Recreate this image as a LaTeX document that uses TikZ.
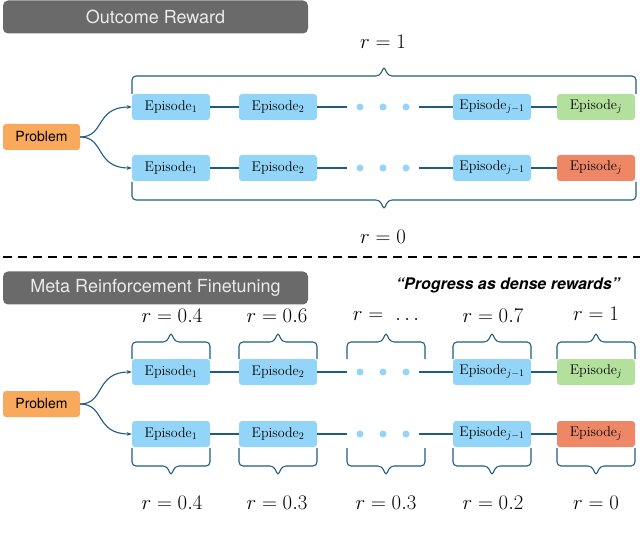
\documentclass[tikz,border=0pt]{standalone}
\usepackage{fontspec}
\newfontfamily\hv{TeX Gyre Heros}
\usetikzlibrary{arrows.meta}
\definecolor{epb}{HTML}{93D5F8}
\definecolor{epg}{HTML}{B4E09E}
\definecolor{epr}{HTML}{EE8765}
\definecolor{prob}{HTML}{F8A95C}
\definecolor{ln}{HTML}{1E5C80}
\definecolor{ban}{HTML}{6A6A6A}
\begin{document}
\begin{tikzpicture}[x=1pt,y=-1pt,
 ep/.style={rounded corners=3pt,minimum width=78pt,minimum height=26pt,inner sep=0pt,font=\fontsize{14}{15}\selectfont},
 prb/.style={fill=prob,rounded corners=3pt,minimum width=77pt,minimum height=26pt,font=\hv\fontsize{14}{15}\selectfont},
 banner/.style={fill=ban,rounded corners=5pt,minimum width=305pt,minimum height=33pt,text=white!92!black,font=\hv\fontsize{18}{19}\selectfont},
 conn/.style={draw=ln,line width=2pt},
 arr/.style={draw=ln,line width=1.1pt,-{Stealth[length=5pt]}},
 brc/.style={draw=ln,line width=1.1pt,rounded corners=4pt},
 dot/.style={circle,fill=epb,inner sep=0pt,minimum size=7pt},
 lab/.style={font=\fontsize{21}{22}\selectfont}]
\useasboundingbox (0,0) rectangle (640,545);
\newcommand\brup[4]{\draw[brc] (#1,#3) -- (#1,#4) -- ({(#1+#2)/2-4},#4) -- ({(#1+#2)/2},#4-10) -- ({(#1+#2)/2+4},#4) -- (#2,#4) -- (#2,#3);}
\newcommand\brdn[4]{\draw[brc] (#1,#3) -- (#1,#4) -- ({(#1+#2)/2-4},#4) -- ({(#1+#2)/2},#4+10) -- ({(#1+#2)/2+4},#4) -- (#2,#4) -- (#2,#3);}
\newcommand\row[3]{% y, prefix, last color
 \node[ep,fill=epb] (#2a) at (171,#1) {Episode$_1$};
 \node[ep,fill=epb] (#2b) at (278,#1) {Episode$_2$};
 \node[dot] (#2d1) at (360,#1) {};
 \node[dot] (#2d2) at (383,#1) {};
 \node[dot] (#2d3) at (406,#1) {};
 \node[ep,fill=epb] (#2c) at (492,#1) {Episode$_{j-1}$};
 \node[ep,fill=#3] (#2e) at (596,#1) {Episode$_j$};
 \coordinate (#2l) at (347,#1); \coordinate (#2r) at (419,#1);
 \draw[conn] (#2a) -- (#2b); \draw[conn] (#2b) -- (#2l);
 \draw[conn] (#2r) -- (#2c); \draw[conn] (#2c) -- (#2e);}
% top part
\node[banner] (b1) at (155.5,17) {Outcome Reward};
\row{107}{t}{epg}
\row{168}{u}{epr}
\node[prb] (p1) at (41.5,137) {Problem};
\draw[arr] (p1.east) .. controls (105,137) and (95,107) .. (ta.west);
\draw[arr] (p1.east) .. controls (105,137) and (95,168) .. (ua.west);
\brup{132}{636}{94}{76}
\brdn{132}{636}{182}{200}
\node[lab] (r1) at (383,42) {$r=1$};
\node[lab] (r0) at (383,237) {$r=0$};
\coordinate (dl) at (3,257); \coordinate (dr) at (640,257);
\draw[line width=2pt,dash pattern=on 9pt off 6pt] (dl) -- (dr);
% bottom part
\node[banner] (b2) at (155.5,288) {Meta Reinforcement Finetuning};
\node[font=\hv\bfseries\itshape\fontsize{16}{17}\selectfont] (pg) at (508,285) {“Progress as dense rewards”};
\row{372}{v}{epg}
\row{434}{w}{epr}
\node[prb] (p2) at (41.5,404) {Problem};
\draw[arr] (p2.east) .. controls (105,404) and (95,372) .. (va.west);
\draw[arr] (p2.east) .. controls (105,404) and (95,434) .. (wa.west);
\brup{132}{210}{359}{342}
\brup{239}{317}{359}{342}
\brup{347}{425}{359}{342}
\brup{453}{531}{359}{342}
\brup{557}{635}{359}{342}
\brdn{132}{210}{448}{466}
\brdn{239}{317}{448}{466}
\brdn{347}{425}{448}{466}
\brdn{453}{531}{448}{466}
\brdn{557}{635}{448}{466}
\node[lab] (a1) at (172,316) {$r=0.4$};
\node[lab] (a2) at (277,316) {$r=0.6$};
\node[lab] (a3) at (386,316) {$r=\ \ldots$};
\node[lab] (a4) at (493,316) {$r=0.7$};
\node[lab] (a5) at (596,314) {$r=1$};
\node[lab] (c1) at (172,503) {$r=0.4$};
\node[lab] (c2) at (277,503) {$r=0.3$};
\node[lab] (c3) at (386,503) {$r=0.3$};
\node[lab] (c4) at (493,503) {$r=0.2$};
\node[lab] (c5) at (596,503) {$r=0$};
\end{tikzpicture}
\end{document}
